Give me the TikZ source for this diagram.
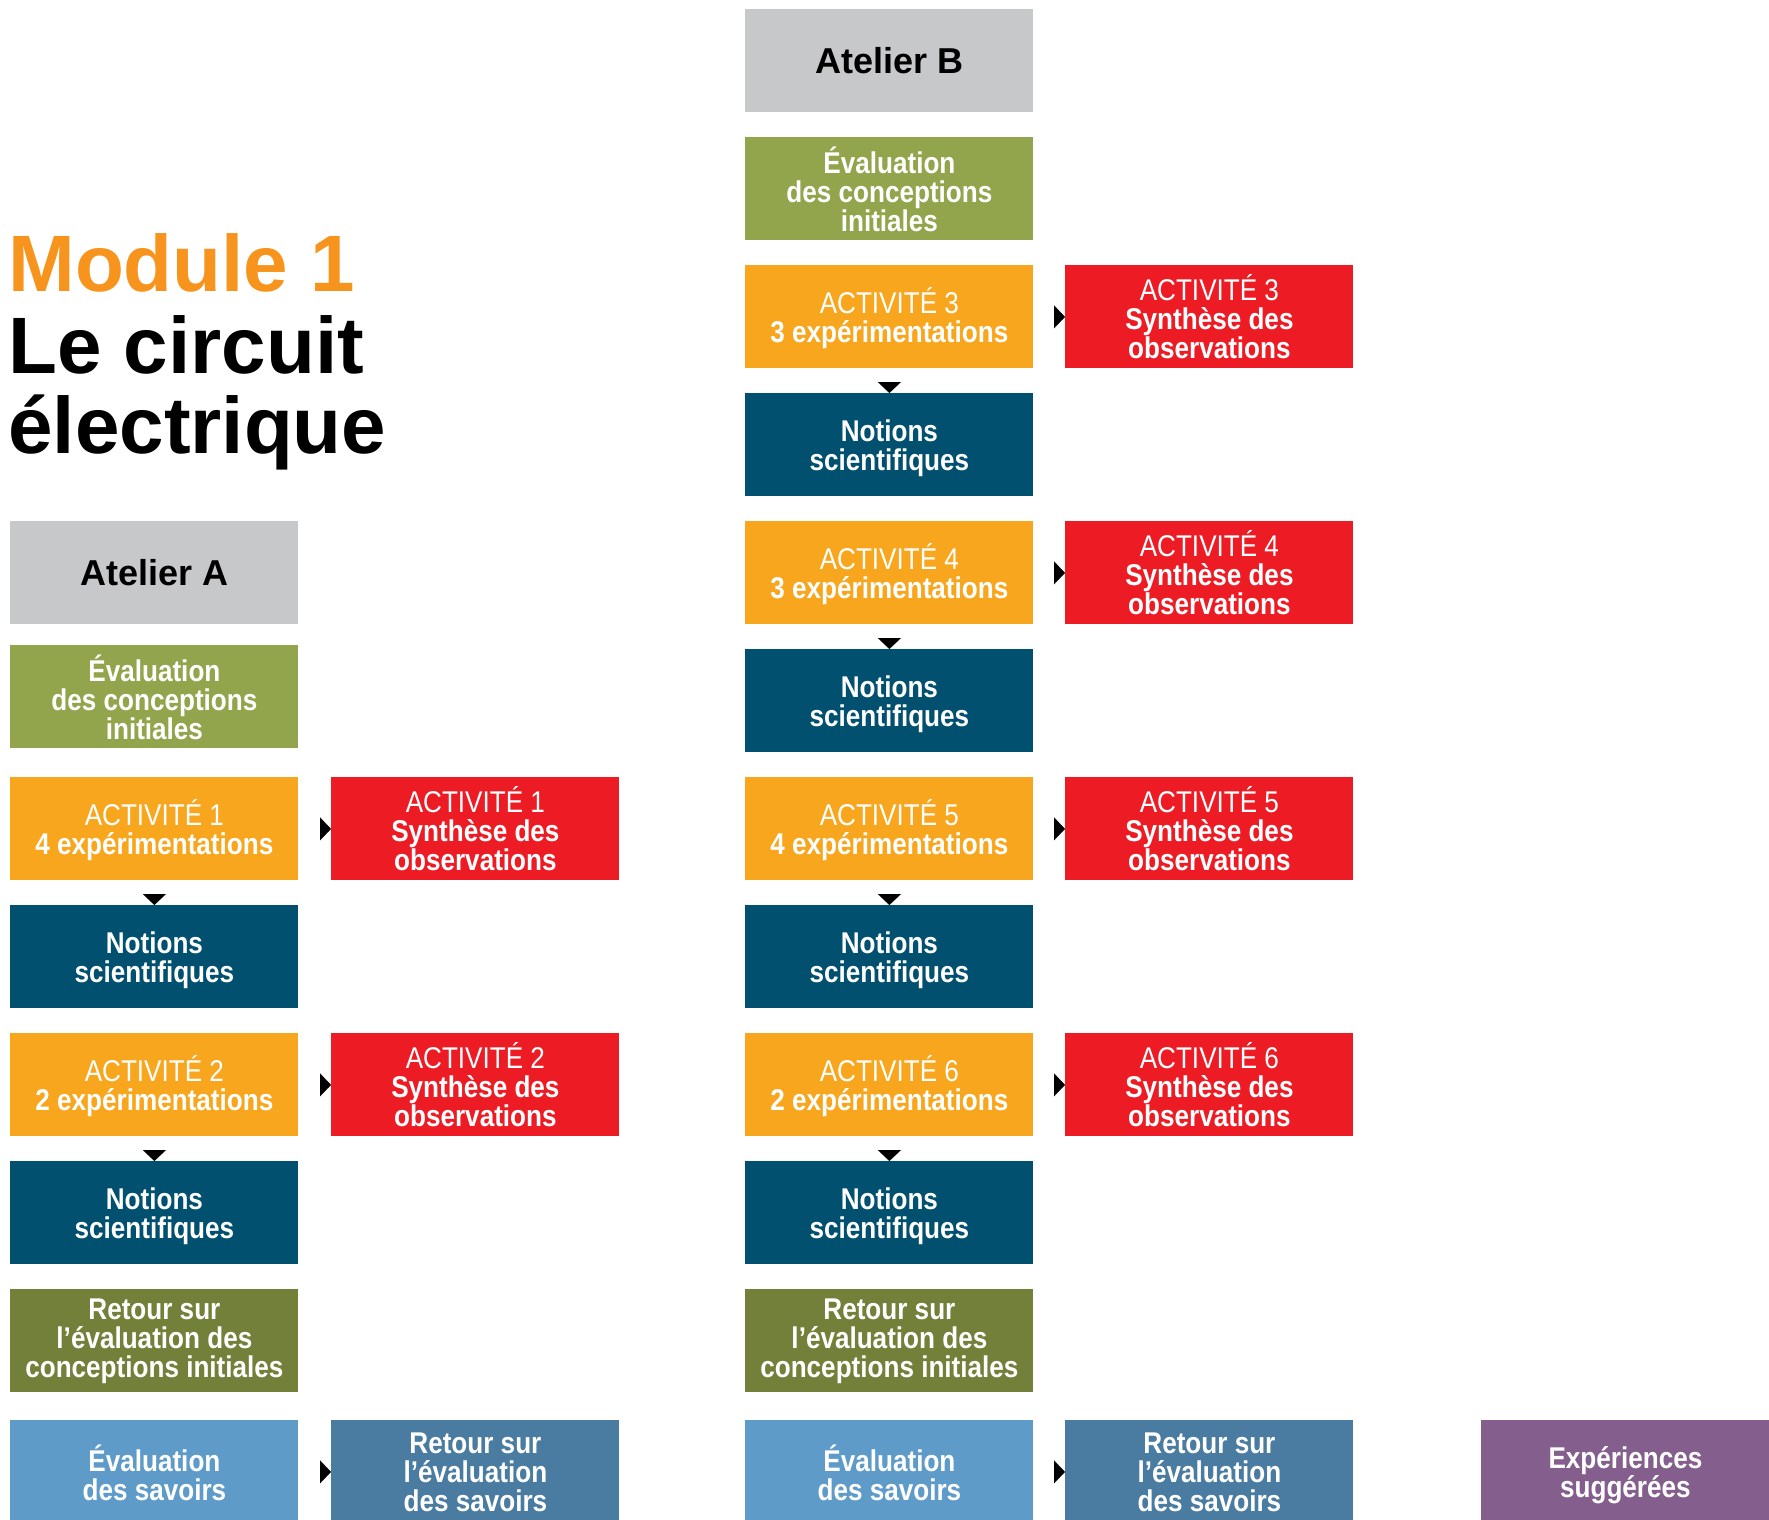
\documentclass[tikz,border=0pt]{standalone}
\usepackage{fontspec}
\setmainfont{Liberation Sans}
\newfontfamily\boxfont[FakeStretch=0.87]{Liberation Sans}
\usetikzlibrary{arrows.meta}
\definecolor{cgray}{HTML}{C7C8CA}
\definecolor{cgreen}{HTML}{92A54D}
\definecolor{corange}{HTML}{F8A61D}
\definecolor{cred}{HTML}{ED1C24}
\definecolor{cnavy}{HTML}{02506F}
\definecolor{cdgreen}{HTML}{73803A}
\definecolor{clblue}{HTML}{5F9BC9}
\definecolor{csblue}{HTML}{4A7BA0}
\definecolor{cpurple}{HTML}{845F8E}
\definecolor{ctitle}{HTML}{F7941E}
\newcommand{\tallstrut}{\rule{0pt}{14.5pt}}
\begin{document}
\begin{tikzpicture}[x=0.5pt,y=-0.5pt,
  box/.style={rectangle, inner sep=0pt, minimum width=144pt, minimum height=51.5pt,
    anchor=north west, align=center, text=white,
    font=\boxfont\fontsize{15pt}{14.5pt}\selectfont\bfseries},
  atelier/.style={box, fill=cgray, text=black,
    font=\fontsize{18pt}{18pt}\selectfont\bfseries},
  evalbox/.style={box, fill=cgreen},
  actbox/.style={box, fill=corange},
  synbox/.style={box, fill=cred},
  notbox/.style={box, fill=cnavy},
  retbox/.style={box, fill=cdgreen},
  savbox/.style={box, fill=clblue},
  retsavbox/.style={box, fill=csblue},
  expbox/.style={box, fill=cpurple},
  tipline/.style={white, line width=0.1pt,
    -{Triangle[length=5.5pt,width=11.5pt,color=black,fill=black]}},
  title/.style={anchor=base west, inner sep=0pt,
    font=\fontsize{40pt}{40pt}\selectfont\bfseries}
]
\useasboundingbox (0,0) rectangle (1769,1520);
\clip (0,0) rectangle (1769,1520);

% Title
\node[title, text=ctitle] (t1) at (8,292) {Module 1};
\node[title] (t2) at (8,373) {Le circuit};
\node[title] (t3) at (8,453) {électrique};

% Atelier A
\node[atelier] (atA) at (10,521) {Atelier A};
\node[evalbox] (evA) at (10,645) {Évaluation\\des conceptions\\initiales};
\node[actbox] (a1) at (10,777) {\tallstrut\mdseries ACTIVITÉ 1\\4 expérimentations};
\node[synbox] (s1) at (331,777) {\mdseries ACTIVITÉ 1\\Synthèse des\\observations};
\node[notbox] (n1) at (10,905) {\tallstrut Notions\\scientifiques};
\node[actbox] (a2) at (10,1033) {\tallstrut\mdseries ACTIVITÉ 2\\2 expérimentations};
\node[synbox] (s2) at (331,1033) {\mdseries ACTIVITÉ 2\\Synthèse des\\observations};
\node[notbox] (n2) at (10,1161) {\tallstrut Notions\\scientifiques};
\node[retbox] (rA) at (10,1289) {Retour sur\\l’évaluation des\\conceptions initiales};
\node[savbox] (esA) at (10,1420) {\tallstrut Évaluation\\des savoirs};
\node[retsavbox] (rsA) at (331,1420) {Retour sur\\l’évaluation\\des savoirs};

% Atelier B
\node[atelier] (atB) at (745,9) {Atelier B};
\node[evalbox] (evB) at (745,137) {Évaluation\\des conceptions\\initiales};
\node[actbox] (a3) at (745,265) {\tallstrut\mdseries ACTIVITÉ 3\\3 expérimentations};
\node[synbox] (s3) at (1065,265) {\mdseries ACTIVITÉ 3\\Synthèse des\\observations};
\node[notbox] (n3) at (745,393) {\tallstrut Notions\\scientifiques};
\node[actbox] (a4) at (745,521) {\tallstrut\mdseries ACTIVITÉ 4\\3 expérimentations};
\node[synbox] (s4) at (1065,521) {\mdseries ACTIVITÉ 4\\Synthèse des\\observations};
\node[notbox] (n4) at (745,649) {\tallstrut Notions\\scientifiques};
\node[actbox] (a5) at (745,777) {\tallstrut\mdseries ACTIVITÉ 5\\4 expérimentations};
\node[synbox] (s5) at (1065,777) {\mdseries ACTIVITÉ 5\\Synthèse des\\observations};
\node[notbox] (n5) at (745,905) {\tallstrut Notions\\scientifiques};
\node[actbox] (a6) at (745,1033) {\tallstrut\mdseries ACTIVITÉ 6\\2 expérimentations};
\node[synbox] (s6) at (1065,1033) {\mdseries ACTIVITÉ 6\\Synthèse des\\observations};
\node[notbox] (n6) at (745,1161) {\tallstrut Notions\\scientifiques};
\node[retbox] (rB) at (745,1289) {Retour sur\\l’évaluation des\\conceptions initiales};
\node[savbox] (esB) at (745,1420) {\tallstrut Évaluation\\des savoirs};
\node[retsavbox] (rsB) at (1065,1420) {Retour sur\\l’évaluation\\des savoirs};

\node[expbox] (exp) at (1481,1420) {\tallstrut Expériences\\suggérées};

% Connectors (arrowheads only)
\foreach \a/\s in {a1/s1,a2/s2,a3/s3,a4/s4,a5/s5,a6/s6,esA/rsA,esB/rsB}
  \draw[tipline] (\a.east) -- (\s.west);
\foreach \a/\n in {a1/n1,a2/n2,a3/n3,a4/n4,a5/n5,a6/n6}
  \draw[tipline] (\a.south) -- (\n.north);
\end{tikzpicture}
\end{document}
